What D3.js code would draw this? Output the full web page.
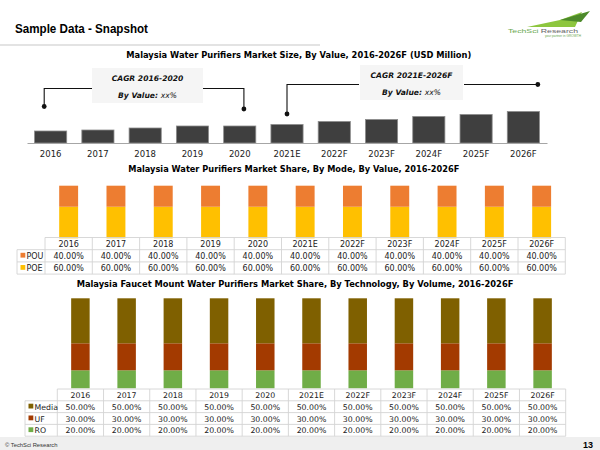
<!DOCTYPE html>
<html><head><meta charset="utf-8">
<script src="https://cdn.jsdelivr.net/npm/d3@7"></script>
<style>body{margin:0;background:#fff}svg{display:block}</style>
</head><body>
<svg id="c" width="600" height="450"></svg>
<script>
// ---------- data ----------
const years = ["2016","2017","2018","2019","2020","2021E","2022F","2023F","2024F","2025F","2026F"];
const marketSize = [12, 13, 15, 17, 17, 18.5, 21.5, 23.5, 26.5, 28.5, 31.5];
const modeSeries = ["POU", "POE"];
const pouShare = [40,40,40,40,40,40,40,40,40,40,40];
const poeShare = [60,60,60,60,60,60,60,60,60,60,60];
const techSeries = ["Media", "UF", "RO"];
const mediaShare = [50,50,50,50,50,50,50,50,50,50,50];
const ufShare = [30,30,30,30,30,30,30,30,30,30,30];
const roShare = [20,20,20,20,20,20,20,20,20,20,20];
const cagrLabels = ["CAGR 2016-2020", "CAGR 2021E-2026F"];
const titles = [
  "Malaysia Water Purifiers Market Size, By Value, 2016-2026F (USD Million)",
  "Malaysia Water Purifiers Market Share, By Mode, By Value, 2016-2026F",
  "Malaysia Faucet Mount Water Purifiers Market Share, By Technology, By Volume, 2016-2026F"
];

const FONT = "'DejaVu Sans', Verdana, sans-serif";
const svg = d3.select("#c");
svg.append("rect").attr("width",600).attr("height",450).attr("fill","#fff");

// ---------- header ----------
svg.append("text").attr("x",15).attr("y",32.5)
  .attr("font-family","'Liberation Sans', Arial, sans-serif").attr("font-weight","bold")
  .attr("font-size",12.5).attr("textLength",133).attr("lengthAdjust","spacingAndGlyphs")
  .attr("fill","#000").text("Sample Data - Snapshot");
svg.append("line").attr("x1",0).attr("x2",320).attr("y1",45).attr("y2",45)
  .attr("stroke","#c8c8c8").attr("stroke-width",1.2);

// logo
const logo = svg.append("g");
logo.append("path").attr("d","M527,27 L560,20 L582,12 L575,27 Z").attr("fill","#8dc63f");
logo.append("path").attr("d","M560,20 L590,11 L581,22 Z").attr("fill","#4d8a2a");
logo.append("text").attr("x",508).attr("y",32.5).attr("font-family","'Liberation Sans',Arial,sans-serif")
  .attr("font-size",5.6).attr("textLength",70).attr("lengthAdjust","spacingAndGlyphs")
  .selectAll("tspan").data([["TechSci ","#6aa84f"],["Research","#666"]]).join("tspan")
  .attr("fill",d=>d[1]).text(d=>d[0]);
logo.append("text").attr("x",545).attr("y",37).attr("font-family","'Liberation Sans',Arial,sans-serif")
  .attr("font-size",3.2).attr("fill","#6aa84f").text("your partner in GROWTH");

function title(t, cx, y, w){
  svg.append("text").attr("x",cx).attr("y",y).attr("text-anchor","middle")
    .attr("font-family",FONT).attr("font-weight","bold").attr("font-size",8.6)
    .attr("textLength",w).attr("lengthAdjust","spacingAndGlyphs").attr("fill","#000").text(t);
}

// ---------- chart 1 ----------
title(titles[0], 298.8, 58, 345);
const x1 = d3.scaleBand().domain(years).range([27,547]).paddingInner(0.32).paddingOuter(0.16);
const y1 = d3.scaleLinear().domain([0,35]).range([143,108]);
const g1 = svg.append("g");
g1.selectAll("rect.bar").data(years).join("rect").attr("class","bar")
  .attr("x",d=>x1(d)).attr("width",x1.bandwidth())
  .attr("y",(d,i)=>y1(marketSize[i])).attr("height",(d,i)=>y1(0)-y1(marketSize[i]))
  .attr("fill","#3f3f3f").attr("stroke","#8c8c8c").attr("stroke-width",0.8);
const ax1 = g1.append("g").attr("transform","translate(0,143)")
  .call(d3.axisBottom(x1).tickSize(0).tickPadding(8));
ax1.select(".domain").attr("stroke","#a6a6a6");
ax1.selectAll("text").attr("font-family",FONT).attr("font-size",8.5).attr("fill","#222");

// CAGR annotations
function cagrBox(cx, cy, w, h, label){
  const g = svg.append("g");
  g.append("rect").attr("x",cx-w/2).attr("y",cy-h/2).attr("width",w).attr("height",h).attr("fill","#f5f5f5");
  g.append("text").attr("x",cx).attr("y",cy-5).attr("text-anchor","middle")
    .attr("font-family",FONT).attr("font-weight","bold").attr("font-style","italic")
    .attr("font-size",7.6).attr("fill","#111").text(label);
  const t = g.append("text").attr("x",cx).attr("y",cy+12).attr("text-anchor","middle")
    .attr("font-family",FONT).attr("font-style","italic").attr("font-size",7.6).attr("fill","#111");
  t.append("tspan").attr("font-weight","bold").text("By Value: ");
  t.append("tspan").text("xx%");
}
const bw1 = x1.bandwidth();
const dotL1 = x1("2016")+bw1*0.3, dotR1 = x1("2020")+bw1*0.63;
const dotL2 = x1("2021E")+bw1*0.5, dotR2 = x1("2026F")+bw1*0.95;
const conn = svg.append("g").attr("stroke","#111").attr("stroke-width",1.1).attr("fill","none");
conn.append("path").attr("d",`M${dotL1},106.5 V88.5 H92 M203,88.5 H${dotR1} V109`);
conn.append("path").attr("d",`M${dotL2},114 V84.5 H359 M464,84.5 H${dotR2}`);
svg.append("g").attr("fill","#111").selectAll("circle")
  .data([[dotL1,106.5],[dotR1,109],[dotL2,114],[dotR2,84.5]]).join("circle")
  .attr("cx",d=>d[0]).attr("cy",d=>d[1]).attr("r",2.4);
cagrBox(147.5, 85.5, 111, 35, cagrLabels[0]);
cagrBox(411.5, 82.5, 103, 35, cagrLabels[1]);

// ---------- stacked chart + table helper ----------
function stackedWithTable(cfg){
  const x = d3.scaleBand().domain(years).range([cfg.left, cfg.right]).paddingInner(0.6).paddingOuter(0.3);
  const y = d3.scaleLinear().domain([0,100]).range([cfg.base, cfg.top]);
  const rows = years.map((yr,i)=>{ const o={year:yr}; cfg.series.forEach(s=>o[s.name]=s.values[i]); return o; });
  const stackKeys = cfg.series.map(s=>s.name).slice().reverse();
  const stacked = d3.stack().keys(stackKeys)(rows);
  const color = Object.fromEntries(cfg.series.map(s=>[s.name,s.color]));
  const g = svg.append("g");
  g.selectAll("g.layer").data(stacked).join("g").attr("fill",d=>color[d.key])
    .selectAll("rect").data(d=>d).join("rect")
    .attr("x",d=>x(d.data.year)).attr("width",x.bandwidth())
    .attr("y",d=>y(d[1])).attr("height",d=>y(d[0])-y(d[1]));
  // table
  const step = x.step();
  const bounds = d3.range(years.length+1).map(i=>cfg.left+i*step);
  const nR = cfg.series.length + 1;
  const rowY = d3.range(nR+1).map(i=>cfg.tTop + i*cfg.rowH);
  const grid = g.append("g").attr("stroke","#d4d4d4").attr("stroke-width",0.9);
  grid.append("line").attr("x1",cfg.left).attr("x2",cfg.right).attr("y1",rowY[0]).attr("y2",rowY[0]);
  rowY.slice(1).forEach(yy=>grid.append("line").attr("x1",cfg.legL).attr("x2",cfg.right).attr("y1",yy).attr("y2",yy));
  grid.append("line").attr("x1",cfg.legL).attr("x2",cfg.legL).attr("y1",rowY[1]).attr("y2",rowY[nR]);
  bounds.forEach(bx=>grid.append("line").attr("x1",bx).attr("x2",bx).attr("y1",rowY[0]).attr("y2",rowY[nR]));
  const txt = g.append("g").attr("font-family",FONT).attr("font-size",cfg.fs).attr("fill","#222");
  txt.selectAll("text.hd").data(years).join("text").attr("class","hd")
    .attr("x",d=>x(d)+x.bandwidth()/2).attr("y",rowY[0]+cfg.rowH/2+3).attr("text-anchor","middle").text(d=>d);
  cfg.series.forEach((s,si)=>{
    const yy = rowY[si+1] + cfg.rowH/2 + 3;
    txt.append("rect").attr("x",cfg.legL+3.5).attr("y",yy-6).attr("width",4.8).attr("height",4.8).attr("fill",s.color);
    txt.append("text").attr("x",cfg.legL+9.5).attr("y",yy).text(s.name);
    txt.selectAll(null).data(s.values).join("text")
      .attr("x",(d,i)=>x(years[i])+x.bandwidth()/2).attr("y",yy).attr("text-anchor","middle")
      .text(d=>d3.format(".2f")(d)+"%");
  });
}

// ---------- chart 2 ----------
title(titles[1], 293.8, 172, 331);
stackedWithTable({
  left:45, right:565.3, legL:17, top:185.7, base:238.3,
  tTop:237.5, rowH:12.2, fs:8,
  series:[{name:modeSeries[0],values:pouShare,color:"#ed7d31"},
          {name:modeSeries[1],values:poeShare,color:"#ffc000"}]
});

// ---------- chart 3 ----------
title(titles[2], 295, 287, 436.7);
stackedWithTable({
  left:57.3, right:565.7, legL:25, top:298.3, base:388.3,
  tTop:389, rowH:11.8, fs:7.8,
  series:[{name:techSeries[0],values:mediaShare,color:"#7f6000"},
          {name:techSeries[1],values:ufShare,color:"#a33a00"},
          {name:techSeries[2],values:roShare,color:"#70ad47"}]
});

// ---------- footer ----------
svg.append("rect").attr("x",0).attr("y",437).attr("width",600).attr("height",13).attr("fill","#efefef");
svg.append("text").attr("x",5).attr("y",446.5).attr("font-family","'Liberation Sans',Arial,sans-serif")
  .attr("font-size",5.8).attr("fill","#333").text("© TechSci Research");
svg.append("text").attr("x",583).attr("y",447.5).attr("font-family","'Liberation Sans',Arial,sans-serif")
  .attr("font-weight","bold").attr("font-size",9).attr("fill","#000").text("13");
</script>
</body></html>
